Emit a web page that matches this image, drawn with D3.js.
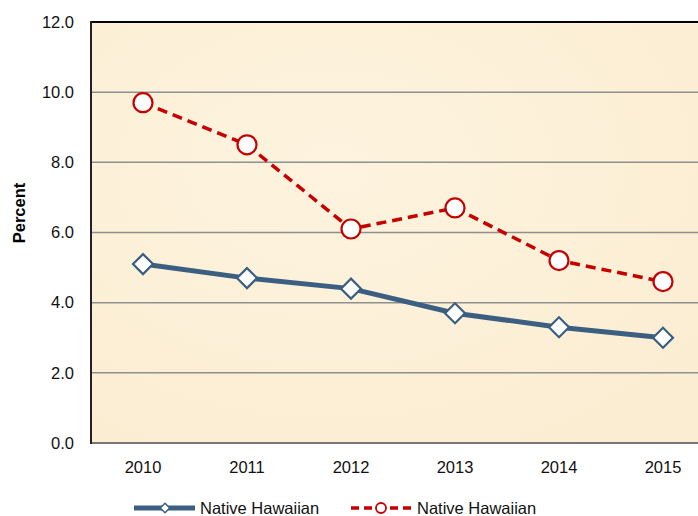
<!DOCTYPE html>
<html>
<head>
<meta charset="utf-8">
<script src="https://cdn.jsdelivr.net/npm/d3@7"></script>
<style>
  body { margin: 0; background: #fff; }
  text { font-family: "Liberation Sans", Arial, sans-serif; }
</style>
</head>
<body>
<svg id="chart" width="698" height="516"></svg>
<script>
var years = ["2010", "2011", "2012", "2013", "2014", "2015"];
var seriesA = [5.1, 4.7, 4.4, 3.7, 3.3, 3.0];   // solid, diamonds
var seriesB = [9.7, 8.5, 6.1, 6.7, 5.2, 4.6];   // dashed, circles
var yTicks = [0, 2, 4, 6, 8, 10, 12];
var legendLabels = ["Native Hawaiian", "Native Hawaiian"];

var svg = d3.select("#chart"),
    margin = {top: 22, right: 0, bottom: 73, left: 91},
    height = +svg.attr("height") - margin.top - margin.bottom;

var blue = "#3b5f80", red = "#c40000";

// plot area continues past the right edge (cropped original)
var x = d3.scaleBand().domain(years).range([margin.left, margin.left + 6 * 104]);
var y = d3.scaleLinear().domain([0, 12]).range([margin.top + height, margin.top]);

var defs = svg.append("defs");
var grad = defs.append("radialGradient").attr("id", "paper")
    .attr("cx", "40%").attr("cy", "35%").attr("r", "80%");
grad.append("stop").attr("offset", "0%").attr("stop-color", "#fdf3de");
grad.append("stop").attr("offset", "100%").attr("stop-color", "#fbedd2");

svg.append("rect")
    .attr("x", margin.left).attr("y", margin.top)
    .attr("width", 698 - margin.left).attr("height", height)
    .attr("fill", "url(#paper)");

// gridlines
svg.append("g").selectAll("line")
    .data(yTicks.slice(1, -1))
    .enter().append("line")
      .attr("x1", margin.left).attr("x2", 698)
      .attr("y1", function(d) { return y(d); })
      .attr("y2", function(d) { return y(d); })
      .attr("stroke", "#8f8f8f").attr("stroke-width", 1.5);

// frame: black top/left, grey bottom
svg.append("line").attr("x1", margin.left).attr("x2", 698)
    .attr("y1", y(12)).attr("y2", y(12)).attr("stroke", "#000").attr("stroke-width", 2);
svg.append("line").attr("x1", margin.left).attr("x2", 698)
    .attr("y1", y(0)).attr("y2", y(0)).attr("stroke", "#777").attr("stroke-width", 2);
svg.append("line").attr("x1", margin.left).attr("x2", margin.left)
    .attr("y1", y(12) - 1).attr("y2", y(0) + 1).attr("stroke", "#222").attr("stroke-width", 2);

// y tick labels
svg.append("g").selectAll("text")
    .data(yTicks)
    .enter().append("text")
      .attr("x", 74)
      .attr("y", function(d) { return y(d); })
      .attr("dy", "0.35em")
      .attr("text-anchor", "end")
      .attr("font-size", 16.5)
      .attr("fill", "#111")
      .text(function(d) { return d.toFixed(1); });

// x tick labels
svg.append("g").selectAll("text")
    .data(years)
    .enter().append("text")
      .attr("x", function(d) { return x(d) + x.bandwidth() / 2; })
      .attr("y", 467)
      .attr("dy", "0.35em")
      .attr("text-anchor", "middle")
      .attr("font-size", 16.5)
      .attr("fill", "#111")
      .text(function(d) { return d; });

svg.append("text")
    .attr("transform", "translate(25,213) rotate(-90)")
    .attr("text-anchor", "middle")
    .attr("font-size", 16.5)
    .attr("font-weight", "bold")
    .text("Percent");

var line = d3.line()
    .x(function(d, i) { return x(years[i]) + x.bandwidth() / 2; })
    .y(function(d) { return y(d); });

svg.append("path").datum(seriesA)
    .attr("d", line).attr("fill", "none")
    .attr("stroke", blue).attr("stroke-width", 5);

svg.append("path").datum(seriesB)
    .attr("d", line).attr("fill", "none")
    .attr("stroke", red).attr("stroke-width", 3.5)
    .attr("stroke-dasharray", "10,6");

var diamond = d3.symbol().type(d3.symbolSquare).size(200);

svg.append("g").selectAll("path")
    .data(seriesA)
    .enter().append("path")
      .attr("d", diamond)
      .attr("transform", function(d, i) {
        return "translate(" + (x(years[i]) + x.bandwidth() / 2) + "," + y(d) + ") rotate(45)";
      })
      .attr("fill", "#fff").attr("stroke", blue).attr("stroke-width", 2.2);

svg.append("g").selectAll("circle")
    .data(seriesB)
    .enter().append("circle")
      .attr("cx", function(d, i) { return x(years[i]) + x.bandwidth() / 2; })
      .attr("cy", function(d) { return y(d); })
      .attr("r", 9.5)
      .attr("fill", "#fff").attr("stroke", red).attr("stroke-width", 2.2);

// legend
var ly = 508;
var lg = svg.append("g");
lg.append("line").attr("x1", 134).attr("x2", 195).attr("y1", ly).attr("y2", ly)
    .attr("stroke", blue).attr("stroke-width", 5);
lg.append("path").attr("d", d3.symbol().type(d3.symbolSquare).size(45))
    .attr("transform", "translate(165," + ly + ") rotate(45)")
    .attr("fill", "#fff").attr("stroke", blue).attr("stroke-width", 1.5);
lg.append("text").attr("x", 200).attr("y", ly).attr("dy", "0.35em")
    .attr("font-size", 16.5).attr("fill", "#111").text(legendLabels[0]);

lg.append("line").attr("x1", 351).attr("x2", 412).attr("y1", ly).attr("y2", ly)
    .attr("stroke", red).attr("stroke-width", 3.5).attr("stroke-dasharray", "8,5");
lg.append("circle").attr("cx", 381).attr("cy", ly).attr("r", 5)
    .attr("fill", "#fff").attr("stroke", red).attr("stroke-width", 1.8);
lg.append("text").attr("x", 417).attr("y", ly).attr("dy", "0.35em")
    .attr("font-size", 16.5).attr("fill", "#111").text(legendLabels[1]);
</script>
</body>
</html>
